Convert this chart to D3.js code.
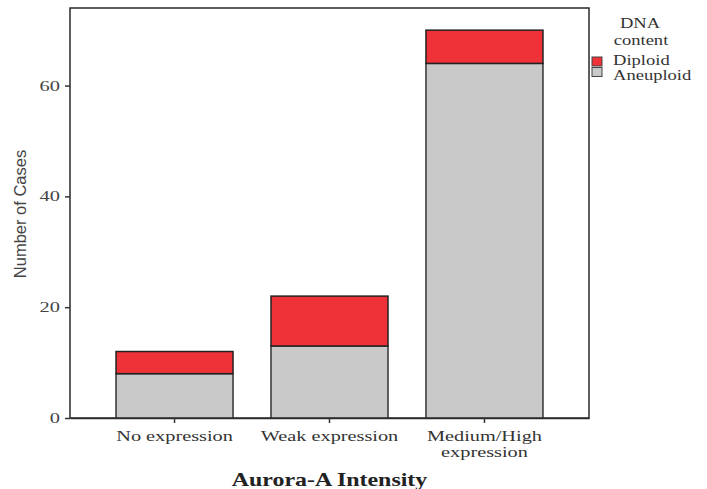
<!DOCTYPE html>
<html><head><meta charset="utf-8">
<script src="https://cdn.jsdelivr.net/npm/d3@7"></script>
<style>body{margin:0;background:#fff}svg{display:block}</style>
</head><body>
<svg id="c" width="707" height="489"></svg>
<script>
const categories = [["No expression"], ["Weak expression"], ["Medium/High", "expression"]];
const aneuploid = [8, 13, 64];
const diploid = [4, 9, 6];
const yTicks = [0, 20, 40, 60];
const seriesNames = ["Diploid", "Aneuploid"];
const colors = {Diploid: "#ef3138", Aneuploid: "#c9c9c9"};

const svg = d3.select("#c");
const L = 70, R = 589, T = 8, B = 418;
const keys = categories.map(c => c.join(" "));
const x = d3.scaleBand().domain(keys).range([L, R]).paddingInner(0.245).paddingOuter(0.297);
const y = d3.scaleLinear().domain([0, 74]).range([B, T]);
const serif = "'Liberation Serif','Times New Roman',serif";
const sans = "'Liberation Sans',Arial,sans-serif";
const SX = 1.36; // horizontal stretch of the original's lettering

function stext(px, py, str, opts) {
  const o = Object.assign({size: 15, anchor: "middle", weight: "normal", fill: "#333", sx: SX}, opts || {});
  svg.append("g").attr("transform", `translate(${px},${py}) scale(${o.sx},1)`)
    .append("text").attr("text-anchor", o.anchor).attr("font-family", serif)
    .attr("font-size", o.size).attr("font-weight", o.weight).attr("fill", o.fill).text(str);
}

// frame
svg.append("rect").attr("x", L).attr("y", T).attr("width", R - L).attr("height", B - T)
  .attr("fill", "none").attr("stroke", "#2a2a2a").attr("stroke-width", 1.5);

// bars
const stack = keys.map((k, i) => ({k, a: aneuploid[i], d: diploid[i]}));
const g = svg.append("g");
g.selectAll(".an").data(stack).join("rect")
  .attr("x", d => x(d.k)).attr("width", x.bandwidth())
  .attr("y", d => y(d.a)).attr("height", d => y(0) - y(d.a))
  .attr("fill", colors.Aneuploid).attr("stroke", "#333").attr("stroke-width", 1.5);
g.selectAll(".dp").data(stack).join("rect")
  .attr("x", d => x(d.k)).attr("width", x.bandwidth())
  .attr("y", d => y(d.a + d.d)).attr("height", d => y(d.a) - y(d.a + d.d))
  .attr("fill", colors.Diploid).attr("stroke", "#222").attr("stroke-width", 1.5);

// y axis
const ya = svg.append("g").attr("transform", `translate(${L},0)`)
  .call(d3.axisLeft(y).tickValues(yTicks).tickSize(5).tickFormat(""));
ya.select(".domain").remove();
ya.selectAll("line").attr("stroke", "#333").attr("stroke-width", 1.5);
yTicks.forEach(v => stext(60, y(v) + 5, d3.format("d")(v), {anchor: "end", fill: "#444"}));

// x axis
const xa = svg.append("g").attr("transform", `translate(0,${B})`)
  .call(d3.axisBottom(x).tickSize(5).tickSizeOuter(0).tickFormat(""));
xa.select(".domain").attr("stroke", "#2a2a2a").attr("stroke-width", 1.5);
xa.selectAll("line").attr("stroke", "#333").attr("stroke-width", 1.5);
categories.forEach((lines, i) => {
  const cx = x(keys[i]) + x.bandwidth() / 2;
  lines.forEach((t, j) => stext(cx, 441 + j * 15.5, t, {size: 14.5, sx: 1.4}));
});

// axis titles
stext((L + R) / 2, 486, "Aurora-A Intensity", {size: 18, weight: "bold", fill: "#222", sx: 1.33});
svg.append("text").attr("transform", "translate(26,214) rotate(-90)").attr("text-anchor", "middle")
  .attr("font-family", sans).attr("font-size", 16.5).attr("fill", "#444").text("Number of Cases");

// legend
stext(640, 28, "DNA", {size: 14.5, sx: 1.28});
stext(641, 45, "content", {size: 14.5, sx: 1.28});
seriesNames.forEach((s, i) => {
  svg.append("rect").attr("x", 592).attr("y", 57 + i * 10.5).attr("width", 10).attr("height", 9)
    .attr("fill", colors[s]).attr("stroke", "#444").attr("stroke-width", 1);
  stext(613, 65 + i * 15, s, {size: 14.5, anchor: "start", sx: 1.28});
});
</script>
</body></html>
